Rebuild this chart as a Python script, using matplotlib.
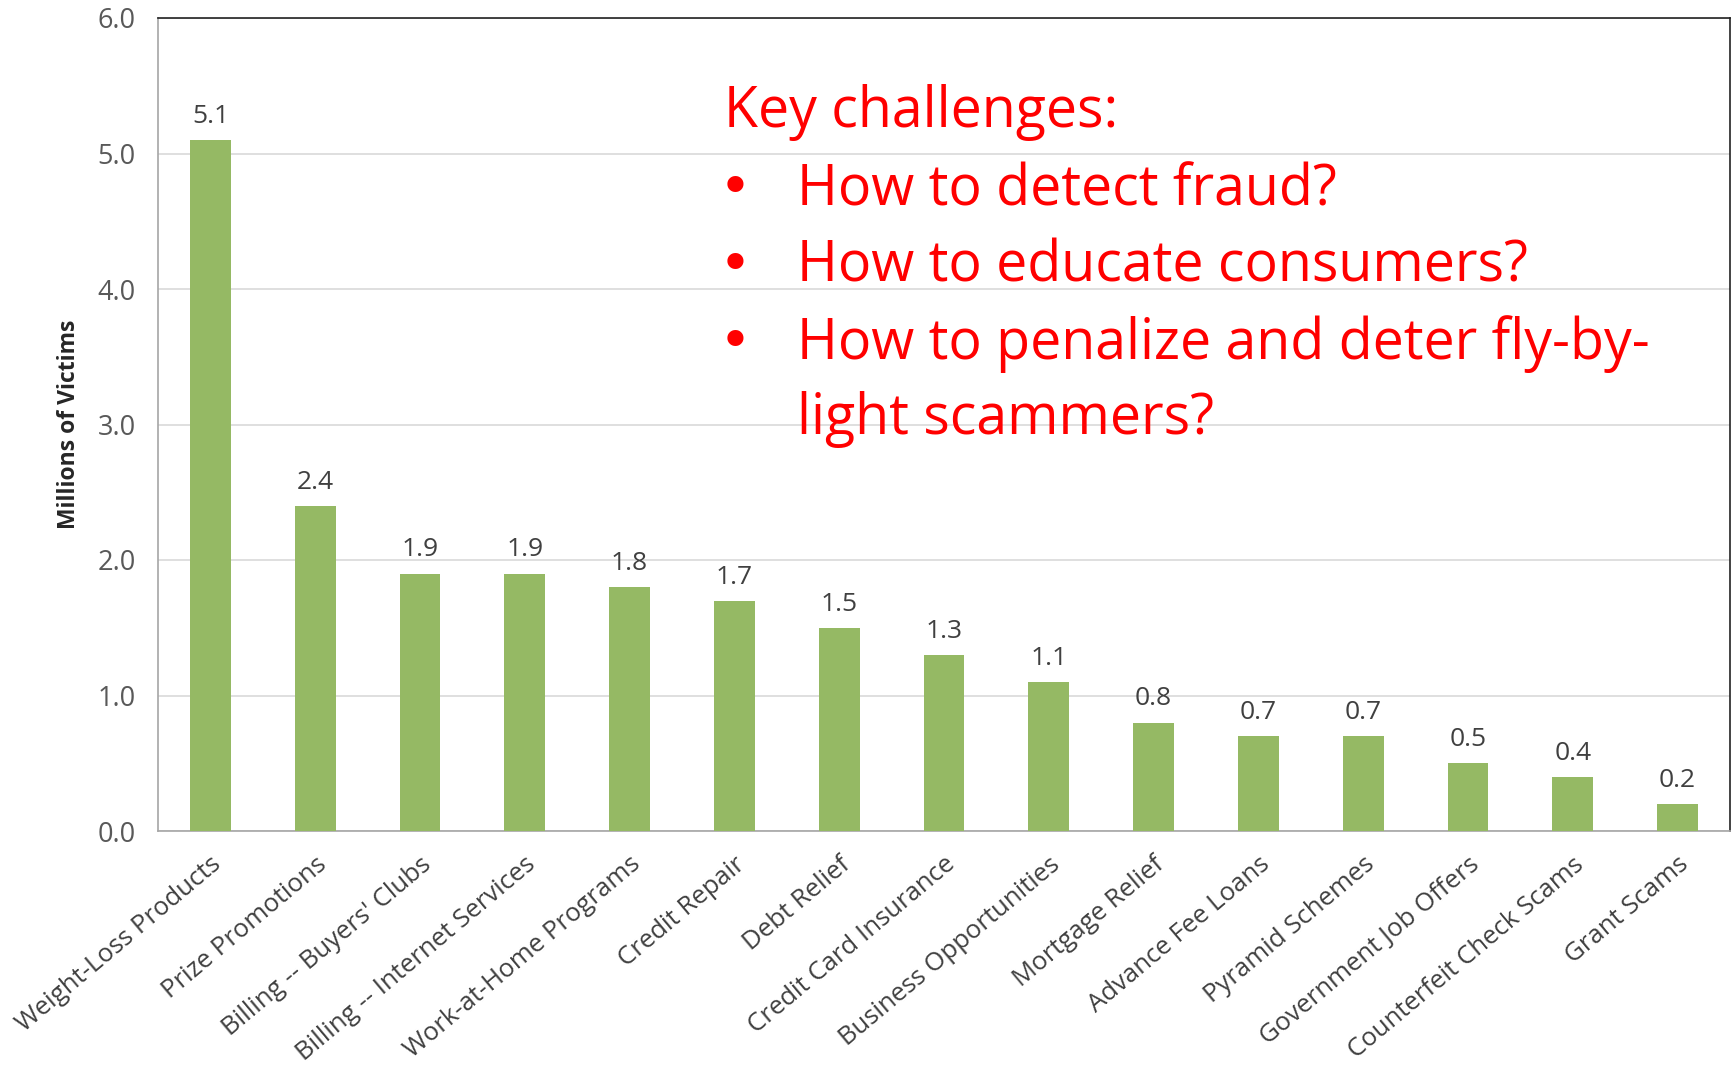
import matplotlib
matplotlib.use("Agg")
import matplotlib.pyplot as plt
from matplotlib import font_manager

categories = ["Weight-Loss Products", "Prize Promotions", "Billing -- Buyers' Clubs",
              "Billing -- Internet Services", "Work-at-Home Programs", "Credit Repair",
              "Debt Relief", "Credit Card Insurance", "Business Opportunities",
              "Mortgage Relief", "Advance Fee Loans", "Pyramid Schemes",
              "Government Job Offers", "Counterfeit Check Scams", "Grant Scams"]
values = [5.1, 2.4, 1.9, 1.9, 1.8, 1.7, 1.5, 1.3, 1.1, 0.8, 0.7, 0.7, 0.5, 0.4, 0.2]
yticks = [0.0, 1.0, 2.0, 3.0, 4.0, 5.0, 6.0]
ylabel = "Millions of Victims"
title_line = "Key challenges:"
bullets = ["How to detect fraud?", "How to educate consumers?",
           "How to penalize and deter fly-by-", "light scammers?"]

avail = {f.name for f in font_manager.fontManager.ttflist}
base_font = "Open Sans" if "Open Sans" in avail else "DejaVu Sans"
plt.rcParams['font.family'] = [base_font, 'DejaVu Sans']

fig = plt.figure(figsize=(17.32, 10.66), dpi=100)
ax = fig.add_axes([158/1732, 1-831/1066, (1730-158)/1732, (831-18)/1066])

x = list(range(len(categories)))
bars = ax.bar(x, values, width=0.39, color="#95b964", zorder=3)
ax.set_xlim(-0.5, len(categories)-0.5)
ax.set_ylim(0, 6.0)
ax.set_yticks(yticks)
ax.set_yticklabels([f"{t:.1f}" for t in yticks], fontsize=19.5, color="#595959")
ax.set_xticks(x)
ax.set_xticklabels(categories, rotation=40, ha='right', va='top',
                   rotation_mode='anchor', fontsize=18.5, color="#404040")
ax.tick_params(axis='both', length=0)
ax.tick_params(axis='y', pad=16)
ax.tick_params(axis='x', pad=15)
ax.yaxis.grid(True, color="#d9d9d9", linewidth=1.2, zorder=0)
ax.set_axisbelow(True)
ax.spines['top'].set_color("#222222")
ax.spines['right'].set_color("#222222")
ax.spines['left'].set_color("#a6a6a6")
ax.spines['bottom'].set_color("#a6a6a6")
for s in ax.spines.values():
    s.set_linewidth(1.2)
ax.set_ylabel(ylabel, fontsize=16.5, fontweight='bold', color="#262626", labelpad=12)

for xi, v in zip(x, values):
    ax.annotate(f"{v:.1f}", (xi, v), xytext=(0, 8), textcoords='offset points',
                ha='center', va='bottom', fontsize=19, color="#404040")

red = "#ff0000"
fs = 40
fig.text(724/1732, 1-127/1066, title_line, fontsize=fs, color=red,
         va='baseline', ha='left')
base_y = [205, 282, 359, 434]
for i, (line, yb) in enumerate(zip(bullets, base_y)):
    if i < 3:
        fig.text(735/1732, 1-yb/1066, "\u2022", fontsize=fs, color=red,
                 family=['DejaVu Sans'], va='baseline', ha='center')
    fig.text(797/1732, 1-yb/1066, line, fontsize=fs, color=red,
             va='baseline', ha='left')

fig.savefig("out.png", dpi=100)
